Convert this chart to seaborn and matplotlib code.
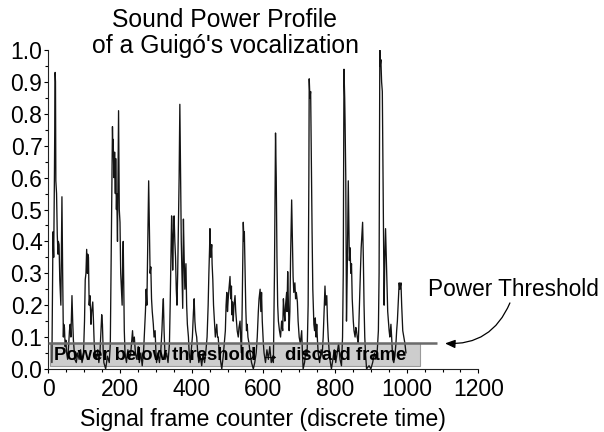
import matplotlib
matplotlib.use("Agg")
import matplotlib.pyplot as plt
from matplotlib.patches import Rectangle
from matplotlib.ticker import MultipleLocator, FormatStrFormatter
import seaborn as sns

# power profile (frame index, normalised power)
frames = [
    10, 13, 15, 17, 19, 20, 21, 23, 25, 27, 28, 30, 32, 35, 37, 38, 40, 42, 43, 45,
    47, 49, 51, 54, 57, 59, 61, 63, 66, 68, 70, 72, 74, 78, 82, 86, 90, 94, 98, 101,
    103, 105, 107, 109, 110, 112, 114, 116, 118, 119, 121, 124, 126, 128, 130, 134, 138, 141, 144, 147,
    149, 151, 153, 155, 160, 165, 170, 173, 175, 177, 179, 180, 181, 183, 185, 187, 188, 190, 191, 193,
    195, 196, 198, 200, 202, 204, 206, 207, 209, 211, 212, 214, 218, 222, 226, 230, 233, 235, 237, 240,
    243, 247, 251, 254, 258, 262, 266, 269, 271, 273, 275, 277, 280, 282, 284, 286, 288, 290, 293, 295,
    298, 300, 302, 306, 310, 314, 317, 319, 321, 323, 326, 330, 334, 338, 340, 342, 344, 345, 347, 349,
    351, 353, 355, 357, 359, 361, 363, 365, 367, 369, 371, 373, 375, 377, 379, 381, 384, 386, 388, 391,
    393, 396, 399, 402, 405, 407, 409, 411, 414, 417, 420, 424, 428, 432, 436, 440, 443, 446, 448, 450,
    451, 453, 456, 457, 459, 461, 463, 466, 468, 470, 472, 474, 477, 480, 484, 488, 491, 494, 496, 498,
    500, 502, 504, 507, 509, 511, 512, 514, 516, 518, 521, 523, 525, 527, 530, 532, 535, 537, 539, 541,
    543, 544, 546, 547, 549, 551, 553, 555, 557, 560, 563, 567, 572, 576, 580, 583, 586, 588, 591, 593,
    595, 597, 600, 602, 606, 610, 614, 618, 622, 626, 628, 631, 634, 636, 638, 640, 642, 645, 648, 651,
    654, 656, 658, 660, 662, 665, 666, 668, 670, 672, 674, 676, 679, 681, 683, 685, 688, 690, 692, 695,
    697, 700, 703, 705, 707, 709, 711, 715, 719, 722, 725, 727, 728, 730, 732, 734, 736, 738, 741, 743,
    745, 747, 749, 751, 753, 757, 761, 764, 767, 770, 772, 774, 777, 779, 781, 784, 787, 790, 794, 798,
    802, 806, 810, 814, 818, 821, 823, 825, 827, 828, 830, 832, 834, 837, 840, 842, 844, 846, 848, 851,
    853, 856, 858, 860, 862, 865, 868, 871, 873, 875, 877, 879, 881, 883, 885, 888, 895, 900, 905, 910,
    914, 918, 921, 923, 924, 925, 926, 928, 930, 932, 934, 936, 937, 939, 941, 943, 944, 947, 949, 951,
    953, 956, 958, 961, 964, 967, 970, 972, 974, 976, 979, 981, 984, 986, 989, 992, 995, 998,
]
power = [
    0.02, 0.43, 0.35, 0.60, 0.93, 0.90, 0.59, 0.55, 0.42, 0.36, 0.40, 0.39, 0.28, 0.20, 0.45, 0.54, 0.30, 0.10, 0.14, 0.13,
    0.07, 0.09, 0.05, 0.03, 0.08, 0.12, 0.14, 0.10, 0.23, 0.15, 0.09, 0.06, 0.03, 0.02, 0.05, 0.03, 0.06, 0.02, 0.04, 0.15,
    0.28, 0.30, 0.375, 0.30, 0.36, 0.35, 0.20, 0.23, 0.18, 0.14, 0.18, 0.21, 0.15, 0.08, 0.05, 0.03, 0.06, 0.02, 0.05, 0.12,
    0.17, 0.14, 0.06, 0.02, 0.00, 0.04, 0.02, 0.08, 0.30, 0.55, 0.76, 0.70, 0.72, 0.60, 0.68, 0.55, 0.66, 0.50, 0.55, 0.40,
    0.70, 0.81, 0.50, 0.46, 0.30, 0.25, 0.20, 0.30, 0.40, 0.22, 0.12, 0.05, 0.02, 0.06, 0.03, 0.05, 0.09, 0.12, 0.08, 0.10,
    0.05, 0.03, 0.07, 0.02, 0.05, 0.01, 0.06, 0.13, 0.18, 0.25, 0.20, 0.35, 0.59, 0.45, 0.30, 0.32, 0.22, 0.18, 0.14, 0.10,
    0.12, 0.06, 0.02, 0.05, 0.02, 0.06, 0.12, 0.18, 0.22, 0.12, 0.03, 0.05, 0.02, 0.08, 0.20, 0.35, 0.48, 0.45, 0.31, 0.42,
    0.48, 0.40, 0.35, 0.25, 0.20, 0.30, 0.45, 0.60, 0.83, 0.60, 0.40, 0.30, 0.19, 0.47, 0.35, 0.25, 0.33, 0.20, 0.14, 0.10,
    0.05, 0.02, 0.06, 0.10, 0.18, 0.22, 0.15, 0.12, 0.10, 0.05, 0.02, 0.04, 0.01, 0.05, 0.02, 0.06, 0.10, 0.20, 0.30, 0.38,
    0.44, 0.35, 0.39, 0.33, 0.28, 0.20, 0.16, 0.10, 0.12, 0.14, 0.10, 0.10, 0.05, 0.03, 0.00, 0.04, 0.08, 0.12, 0.20, 0.24,
    0.18, 0.22, 0.25, 0.29, 0.22, 0.26, 0.17, 0.21, 0.15, 0.20, 0.23, 0.18, 0.15, 0.12, 0.10, 0.13, 0.15, 0.09, 0.05, 0.20,
    0.38, 0.46, 0.40, 0.43, 0.30, 0.19, 0.12, 0.14, 0.10, 0.08, 0.05, 0.02, 0.00, 0.02, 0.05, 0.10, 0.18, 0.22, 0.25, 0.18,
    0.24, 0.15, 0.08, 0.05, 0.02, 0.06, 0.03, 0.07, 0.02, 0.04, 0.02, 0.30, 0.74, 0.60, 0.35, 0.20, 0.15, 0.12, 0.10, 0.15,
    0.12, 0.22, 0.18, 0.15, 0.20, 0.24, 0.18, 0.305, 0.20, 0.12, 0.18, 0.35, 0.53, 0.40, 0.29, 0.24, 0.27, 0.22, 0.24, 0.21,
    0.15, 0.10, 0.08, 0.10, 0.12, 0.05, 0.00, 0.02, 0.06, 0.04, 0.20, 0.60, 0.91, 0.85, 0.87, 0.65, 0.43, 0.25, 0.14, 0.12,
    0.16, 0.10, 0.14, 0.09, 0.05, 0.02, 0.06, 0.04, 0.10, 0.20, 0.26, 0.20, 0.23, 0.15, 0.10, 0.05, 0.02, 0.00, 0.03, 0.06,
    0.02, 0.05, 0.08, 0.03, 0.01, 0.10, 0.30, 0.94, 0.85, 0.78, 0.60, 0.15, 0.30, 0.59, 0.34, 0.38, 0.30, 0.33, 0.22, 0.15,
    0.12, 0.10, 0.13, 0.12, 0.10, 0.08, 0.20, 0.31, 0.38, 0.42, 0.46, 0.35, 0.20, 0.10, 0.05, 0.00, 0.01, 0.00, 0.02, 0.05,
    0.03, 0.06, 0.12, 0.30, 0.70, 1.00, 0.95, 0.97, 0.90, 0.87, 0.60, 0.35, 0.20, 0.35, 0.44, 0.35, 0.30, 0.18, 0.15, 0.12,
    0.10, 0.14, 0.10, 0.03, 0.02, 0.04, 0.08, 0.12, 0.15, 0.20, 0.27, 0.25, 0.27, 0.20, 0.12, 0.10, 0.08, 0.05,
]
threshold = 0.08

sns.set_style("ticks")
plt.rcParams["font.family"] = ["Liberation Sans", "DejaVu Sans"]
plt.rcParams.update({"text.color": "black", "axes.labelcolor": "black",
                     "xtick.color": "black", "ytick.color": "black",
                     "axes.edgecolor": "#222222"})

fig = plt.figure(figsize=(6.04, 4.32), dpi=100)
ax = fig.add_axes([0.080, 0.146, 0.712, 0.738])

sns.lineplot(x=frames, y=power, ax=ax, color="#141414", lw=0.95, zorder=2)

# shaded "discard" band and threshold line
ax.add_patch(Rectangle((5, 0.008), 1032, threshold - 0.008, facecolor="#cdcdcd",
                       edgecolor="#9a9a9a", lw=0.8, zorder=1))
ax.hlines(threshold, 0, 1085, color="#6b6b6b", lw=1.8, zorder=3)
ax.text(16, 0.043, "Power below threshold \u2192 discard frame", fontsize=13.3,
        fontweight="bold", va="center", ha="left", zorder=4)

ax.text(1059, 0.25, "Power Threshold", fontsize=16.3, va="center", ha="left")
ax.annotate("", xy=(1107, threshold), xytext=(1288, 0.207), annotation_clip=False,
            arrowprops=dict(arrowstyle="-|>,head_length=0.6,head_width=0.25", color="black",
                            lw=0.9, connectionstyle="arc3,rad=-0.35", shrinkA=0, shrinkB=0))

ax.set_xlim(0, 1200)
ax.set_ylim(0, 1.0)
ax.xaxis.set_major_locator(MultipleLocator(200))
ax.xaxis.set_minor_locator(MultipleLocator(50))
ax.yaxis.set_major_locator(MultipleLocator(0.1))
ax.yaxis.set_minor_locator(MultipleLocator(0.05))
ax.yaxis.set_major_formatter(FormatStrFormatter("%.1f"))
ax.tick_params(which="major", direction="out", length=3, width=0.8, labelsize=16.5)
ax.tick_params(which="minor", direction="out", length=2.2, width=0.8)
ax.tick_params(axis="x", which="major", pad=3.3)
ax.tick_params(axis="y", which="major", pad=1.2)
sns.despine(ax=ax)
for s in ax.spines.values():
    s.set_linewidth(0.8)

ax.set_xlabel("Signal frame counter (discrete time)", fontsize=16.7, labelpad=5.5)
ax.set_ylabel("")

fig.text(225 / 604, 1 - 8 / 432, "Sound Power Profile\nof a Guig\u00f3's vocalization",
         ha="center", va="top", fontsize=17.8, linespacing=1.12)

fig.savefig("out.png", dpi=100)
